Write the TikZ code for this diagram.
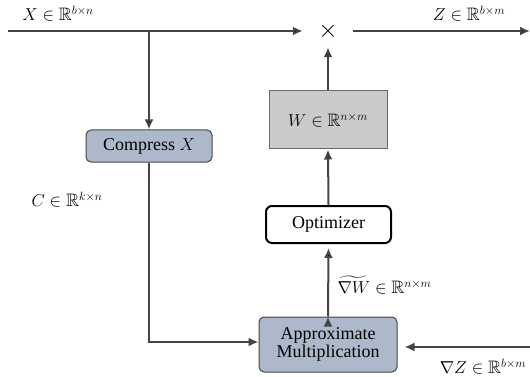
\documentclass[tikz,border=0pt]{standalone}
\usepackage{fontspec}
\setmainfont{Liberation Serif}
\usepackage{amsmath,amssymb}
\usepackage{tikz}
\usetikzlibrary{arrows.meta}
\definecolor{bluegray}{HTML}{ADB9CA}
\definecolor{wgray}{HTML}{CACACA}
\definecolor{wire}{HTML}{454545}

\begin{document}
\begin{tikzpicture}[x=1pt,y=-1pt,
        font=\fontsize{18}{21}\selectfont,
        op/.style={draw=wire, fill=bluegray, rounded corners=5pt, line width=1pt, align=center, inner sep=0pt},
        link/.style={draw=wire, line width=2pt, -{Latex[length=10pt,width=9pt]}}]
        \useasboundingbox (0,0) rectangle (530,377);
        \node[op, minimum width=126, minimum height=32](cmp) at (149,146)   {Compress $X$};
        \node[op, minimum width=138, minimum height=55](appx) at (328,344.5) {Approximate\\[-3pt]Multiplication};
        \node[draw=black, line width=2pt, rounded corners=6pt, fill=white, minimum width=125, minimum height=37, inner sep=0pt](opt) at (328.5,224.5) {Optimizer};
        \node[draw=wire!80, fill=wgray, line width=1pt, minimum width=118, minimum height=58, inner sep=0pt](w) at (328,120) {$W \in \mathbb{R}^{n\times m}$};
        \node[minimum width=50, minimum height=32, inner sep=0pt, font=\fontsize{26}{28}\selectfont](mul) at (328,31) {$\times$};
        \coordinate (xin) at (8,31);
        \coordinate (br)  at (149,31);
        \coordinate (zout) at (530,31);
        \coordinate (gzin) at (530,347);
        % labels
        \node(xl)  at (58,14)   {$X \in \mathbb{R}^{b\times n}$};
        \node(zl)  at (469,14)  {$Z \in \mathbb{R}^{b\times m}$};
        \node(cl)  at (67,200)  {$C \in \mathbb{R}^{k\times n}$};
        \node[anchor=west](gwl) at (334,285) {$\widetilde{\nabla W} \in \mathbb{R}^{n\times m}$};
        \node(gzl) at (483,367) {$\nabla Z \in \mathbb{R}^{b\times m}$};
        % wires
        \path[link]
            (xin) edge (mul.west)
            (br)  edge (cmp.north)
            (mul.east) edge (zout)
            (w.north) edge (mul.south)
            (opt.north) edge (w.south)
            (appx.north) edge (opt.north |- 0,248);
        \draw[link, shorten >=7pt] (gzin) -- (gzin -| appx.east);
        \draw[link] (cmp.south) |- ([yshift=2.5pt]appx.west);
    \end{tikzpicture}
\end{document}
